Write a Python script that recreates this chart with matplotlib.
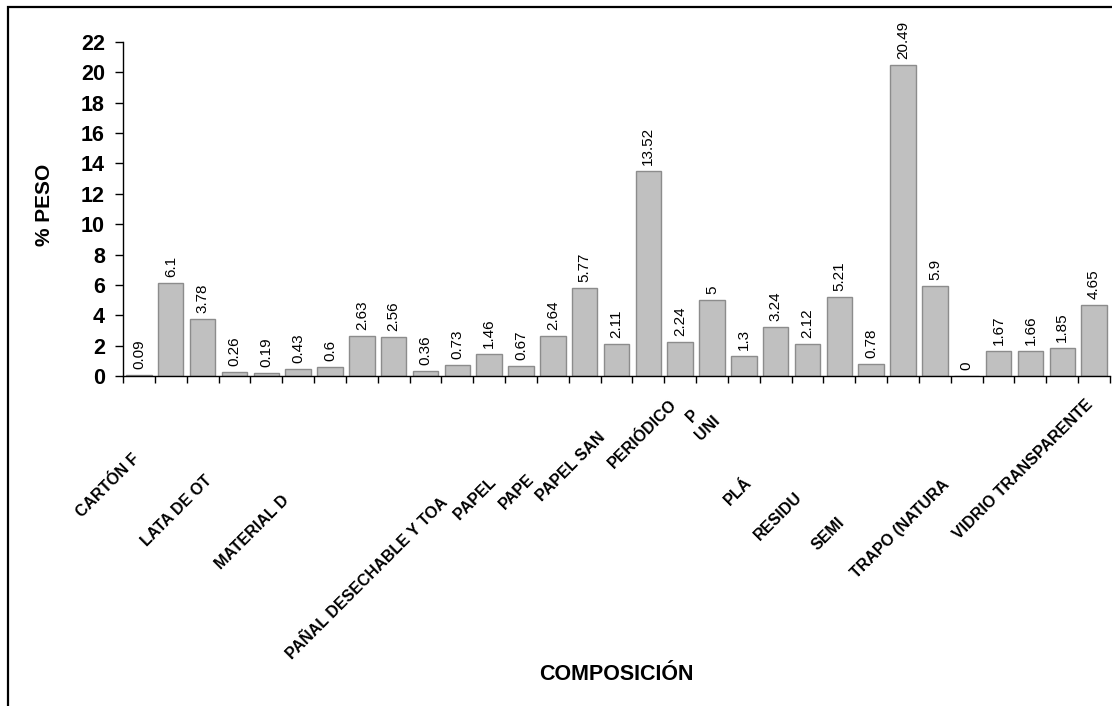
import matplotlib
matplotlib.use("Agg")
from matplotlib import pyplot as plt
from matplotlib.patches import Rectangle

plt.rcParams['font.family'] = ['Liberation Sans', 'DejaVu Sans']

# % peso por componente (31 categorias)
peso = [0.09, 6.1, 3.78, 0.26, 0.19, 0.43, 0.6, 2.63, 2.56, 0.36, 0.73,
        1.46, 0.67, 2.64, 5.77, 2.11, 13.52, 2.24, 5, 1.3, 3.24, 2.12,
        5.21, 0.78, 20.49, 5.9, 0, 1.67, 1.66, 1.85, 4.65]
valores_txt = ['0.09', '6.1', '3.78', '0.26', '0.19', '0.43', '0.6', '2.63',
               '2.56', '0.36', '0.73', '1.46', '0.67', '2.64', '5.77', '2.11',
               '13.52', '2.24', '5', '1.3', '3.24', '2.12', '5.21', '0.78',
               '20.49', '5.9', '0', '1.67', '1.66', '1.85', '4.65']

# etiquetas del eje x tal como se ven (recortadas en el original)
etiquetas = ['CARTÓN F', 'LATA DE OT', 'MATERIAL D', 'PAÑAL DESECHABLE Y TOA',
             'PAPEL ', 'PAPE', 'PAPEL SAN', 'PERIÓDICO', 'P', 'UNI', 'PLÁ',
             'RESIDU', 'SEMI', 'TRAPO (NATURA', 'VIDRIO TRANSPARENTE']
# posicion (en categorias) del final de cada etiqueta y caida en pixeles
etiq_pos = [-0.06, 2.23, 4.65, 9.64, 11.24, 12.34, 14.57, 16.83, 17.5, 18.18,
            19.19, 20.76, 22.08, 25.38, 29.87]
etiq_caida = [80, 102, 122, 124, 102, 101, 59, 26, 36, 42, 104, 119, 144, 106, 26]

fig = plt.figure(figsize=(11.12, 7.06), dpi=100)
ax = fig.add_axes([123 / 1112, 1 - 376 / 706, (1110 - 123) / 1112, (376 - 42) / 706])

x = list(range(len(peso)))
ax.bar(x, peso, width=0.8, color='#c0c0c0', edgecolor='#8c8c8c', linewidth=1)

for xi, v, t in zip(x, peso, valores_txt):
    ax.annotate(t, xy=(xi, v), xytext=(0, 6), textcoords='offset pixels',
                rotation=90, ha='center', va='bottom', fontsize=11)

ax.set_xlim(-0.5, len(peso) - 0.5)
ax.set_ylim(0, 22)
ax.set_yticks(range(0, 23, 2))
ax.set_xticks([i - 0.5 for i in range(len(peso) + 1)])
ax.set_xticklabels([])
ax.tick_params(axis='y', labelsize=15.5, length=6, width=1, pad=7)
ax.tick_params(axis='x', length=5, width=1)
for lab in ax.get_yticklabels():
    lab.set_fontweight('bold')
ax.spines['top'].set_visible(False)
ax.spines['right'].set_visible(False)
ax.spines['left'].set_linewidth(1)
ax.spines['bottom'].set_linewidth(1)

for t, p, d in zip(etiquetas, etiq_pos, etiq_caida):
    ax.annotate(t, xy=(p, 0), xycoords=('data', 'axes fraction'),
                xytext=(0, -d), textcoords='offset pixels', rotation=45,
                rotation_mode='anchor', ha='right', va='center',
                fontsize=11.5, fontweight='bold', annotation_clip=False)

fig.text(44 / 1112, 1 - 205 / 706, '% PESO', rotation=90, ha='center',
         va='center', fontsize=15, fontweight='bold')
fig.text(616 / 1112, 1 - 675 / 706, 'COMPOSICIÓN', ha='center', va='center',
         fontsize=15.5, fontweight='bold')

# marco exterior
fig.patches.append(Rectangle((8 / 1112, -0.1), 1.2, 1.1 - 7 / 706,
                             transform=fig.transFigure, fill=False,
                             edgecolor='black', linewidth=1.6))

fig.savefig('out.png', dpi=100)
